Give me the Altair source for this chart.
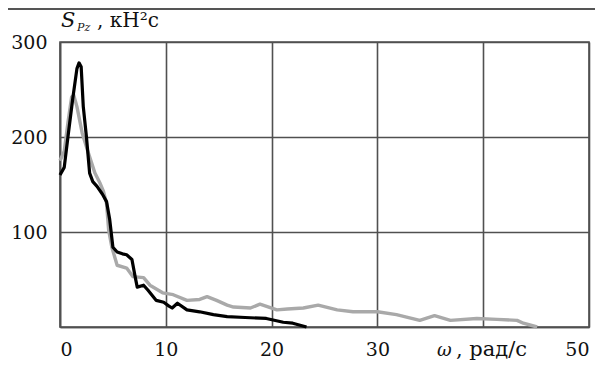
import altair as alt
import pandas as pd

# Black curve
black_w = [0, 0.4, 0.75, 1.2, 1.6, 1.8, 2.0, 2.2, 2.5, 2.8, 3.1, 3.5, 4.0, 4.4, 4.7, 5.0, 5.4, 5.9,
           6.3, 6.8, 7.1, 7.3, 7.9, 8.3, 9.1, 9.8, 10.3, 10.6, 11.1, 12.0, 13.2, 14.5, 15.8, 17.5,
           19.5, 21.1, 22.0, 23.3]
black_s = [160, 168, 200, 240, 272, 278, 274, 232, 200, 162, 153, 148, 140, 132, 113, 84, 79, 77,
           76, 71, 53, 42, 44, 39, 28, 26, 22, 20, 25, 18, 16, 13, 11, 10,
           9, 5, 4, 0]

# Gray curve
gray_w = [0, 0.4, 0.75, 1.1, 1.3, 1.6, 2.1, 2.6, 3.3, 3.8, 4.1, 4.4, 4.6, 4.9, 5.4, 6.3, 6.9, 7.9,
          8.5, 9.7, 10.7, 12.0, 13.2, 13.9, 14.8, 15.8, 16.4, 18.0, 18.9, 20.5, 21.5, 23.0, 24.4,
          26.2, 27.7, 30.0, 31.8, 34.0, 35.4, 36.9, 39.4, 41.3, 43.2, 43.8, 45.1]
gray_s = [175, 185, 215, 242, 244, 232, 204, 186, 162, 151, 143, 130, 102, 84, 65, 62, 53, 52,
          44, 36, 34, 28, 29, 32, 28, 23, 21, 20, 24, 18, 19, 20, 23,
          18, 16, 16, 13, 7, 12, 7, 9, 8, 7, 4, 0]

x_ticks = [0, 10, 20, 30, 40, 50]
y_ticks = [0, 100, 200, 300]

df = pd.concat([
    pd.DataFrame({"w": gray_w, "s": gray_s, "series": "gray", "order": range(len(gray_w))}),
    pd.DataFrame({"w": black_w, "s": black_s, "series": "black", "order": range(len(black_w))}),
])

FONT = "DejaVu Serif"
GRID = "#505050"

x_enc = alt.X("w:Q", scale=alt.Scale(domain=[0, 50], nice=False),
              axis=alt.Axis(values=x_ticks, title=None, grid=True, ticks=False,
                            labelExpr="datum.value == 40 ? '' : datum.label",
                            labelPadding=13, labelFontSize=19, labelFont=FONT,
                            labelColor="#111", gridColor=GRID, gridWidth=1.6,
                            domainColor=GRID, domainWidth=1.6))
y_enc = alt.Y("s:Q", scale=alt.Scale(domain=[0, 300], nice=False),
              axis=alt.Axis(values=y_ticks, title=None, grid=True, ticks=False,
                            labelExpr="datum.value == 0 ? '' : datum.label",
                            labelPadding=13, labelFontSize=19, labelFont=FONT,
                            labelColor="#111", gridColor=GRID, gridWidth=1.6,
                            domainColor=GRID, domainWidth=1.6))

gray_line = alt.Chart(df).transform_filter("datum.series == 'gray'").mark_line(
    color="#a9a9a9", strokeWidth=3.4, strokeJoin="round").encode(
    x=x_enc, y=y_enc, order="order:Q")
black_line = alt.Chart(df).transform_filter("datum.series == 'black'").mark_line(
    color="#000000", strokeWidth=3.2, strokeJoin="round").encode(
    x="w:Q", y="s:Q", order="order:Q")

def txt(s, x, y, size, italic=False):
    kw = dict(font=FONT, fontSize=size, align="left", baseline="alphabetic", color="#111")
    if italic:
        kw["fontStyle"] = "italic"
    return alt.Chart(pd.DataFrame({"t": [s]})).mark_text(**kw).encode(
        text="t:N", x=alt.value(x), y=alt.value(y))

labels = (txt("S", 1, -15, 21, True) + txt("Pz", 17, -11, 11, True) +
          txt(", кН²с", 37, -15, 20) + txt("ω", 377, 314, 18, True) +
          txt(", рад/с", 396, 314, 21))

top_rule = alt.Chart(pd.DataFrame({"a": [0]})).mark_rule(color="#555", strokeWidth=2).encode(
    x=alt.value(-52), x2=alt.value(535), y=alt.value(-33))

chart = alt.layer(gray_line, black_line, labels, top_rule).properties(
    width=529, height=285,
    autosize=alt.AutoSizeParams(type="none"),
    padding={"left": 52, "top": 34, "right": 6, "bottom": 34},
).configure(background="white", font=FONT).configure_axis(labelFont=FONT).configure_view(
    stroke=GRID, strokeWidth=1.6)

chart.save("out.html", embed_options={"renderer": "svg", "actions": False})
